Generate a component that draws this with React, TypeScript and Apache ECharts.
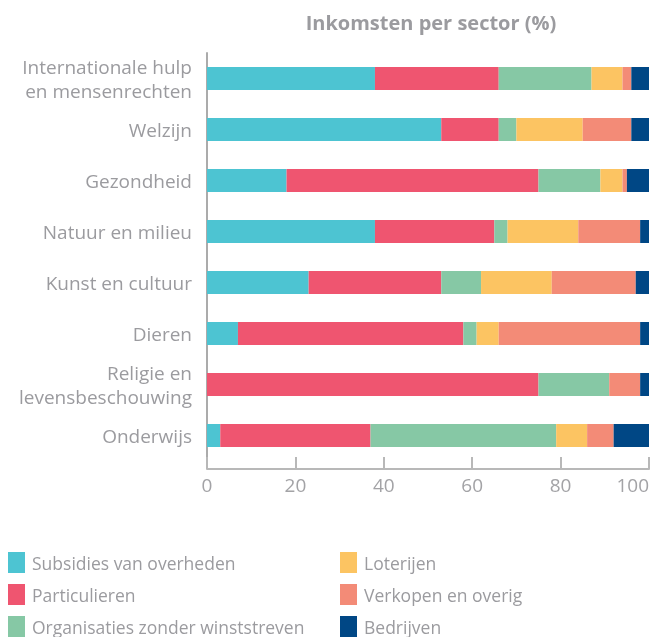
import React, { useEffect, useRef } from "react";
import * as echarts from "echarts";

const categories = [
  "Internationale hulp\nen mensenrechten",
  "Welzijn",
  "Gezondheid",
  "Natuur en milieu",
  "Kunst en cultuur",
  "Dieren",
  "Religie en\nlevensbeschouwing",
  "Onderwijs",
];

const seriesNames = [
  "Subsidies van overheden",
  "Particulieren",
  "Organisaties zonder winststreven",
  "Loterijen",
  "Verkopen en overig",
  "Bedrijven",
];

const subsidies = [38, 53, 18, 38, 23, 7, 0, 3];
const particulieren = [28, 13, 57, 27, 30, 51, 75, 34];
const organisaties = [21, 4, 14, 3, 9, 3, 16, 42];
const loterijen = [7, 15, 5, 16, 16, 5, 0, 7];
const verkopen = [2, 11, 1, 14, 19, 32, 7, 6];
const bedrijven = [4, 4, 5, 2, 3, 2, 2, 8];

const seriesData = [subsidies, particulieren, organisaties, loterijen, verkopen, bedrijven];
const colors = ["#4DC4D2", "#EF5570", "#86C8A5", "#FCC462", "#F38B77", "#004785"];

const xTicks = { min: 0, max: 100, interval: 20 };
const titleText = "Inkomsten per sector (%)";

const FONT = "'Open Sans', sans-serif";
const GREY = "#9b9b9f";

export default function App() {
  const ref = useRef<HTMLDivElement>(null);
  useEffect(() => {
    document.body.style.margin = "0";
    document.documentElement.style.overflow = "hidden";
    const chart = echarts.init(ref.current!, null, { renderer: "svg", width: 653, height: 637 });
    const legendText = { color: GREY, fontSize: 17.5, fontFamily: FONT, fontWeight: 500, padding: [0, 0, 0, 2] };
    const legendBase = {
      orient: "vertical",
      top: 552,
      height: 100,
      padding: 0,
      itemWidth: 17,
      itemHeight: 21,
      itemGap: 11,
      icon: "rect",
      textStyle: legendText,
    };
    chart.setOption({
      animation: false,
      color: colors,
      title: {
        text: titleText,
        left: 426,
        textAlign: "center",
        top: 7,
        textStyle: { color: GREY, fontSize: 20, fontWeight: "bold", fontFamily: FONT },
      },
      grid: {
        left: 207,
        right: 4,
        top: 53,
        height: 408,
        containLabel: false,
        outerBoundsMode: "none",
      },
      legend: [
        { ...legendBase, data: seriesNames.slice(0, 3), left: 8 },
        { ...legendBase, data: seriesNames.slice(3), left: 340 },
      ],
      xAxis: {
        type: "value",
        min: xTicks.min,
        max: xTicks.max,
        interval: xTicks.interval,
        offset: 8,
        axisLine: { show: true, lineStyle: { color: "#b8b8b8", width: 2 } },
        axisTick: { show: true, inside: true, length: 12, lineStyle: { color: "#b8b8b8", width: 2 } },
        splitLine: { show: false },
        axisLabel: {
          color: "#a3a3a6",
          fontSize: 19,
          fontFamily: FONT,
          margin: 6,
          alignMaxLabel: "right",
        },
      },
      yAxis: {
        type: "category",
        inverse: true,
        data: categories,
        axisLine: { show: true, lineStyle: { color: "#ababab", width: 2 } },
        axisTick: { show: false },
        axisLabel: {
          color: GREY,
          fontSize: 19,
          fontFamily: FONT,
          lineHeight: 24,
          margin: 15,
          align: "right",
        },
      },
      graphic: [
        {
          type: "line",
          shape: { x1: 207, y1: 460, x2: 207, y2: 469 },
          style: { stroke: "#ababab", lineWidth: 2 },
        },
      ],
      series: seriesNames.map((name, i) => ({
        name,
        type: "bar",
        stack: "total",
        barWidth: 23,
        data: seriesData[i],
        itemStyle: { color: colors[i] },
      })),
    });
    return () => chart.dispose();
  }, []);
  return (
    <div
      ref={ref}
      style={{ position: "fixed", left: 0, top: 0, width: 653, height: 637 }}
    />
  );
}
